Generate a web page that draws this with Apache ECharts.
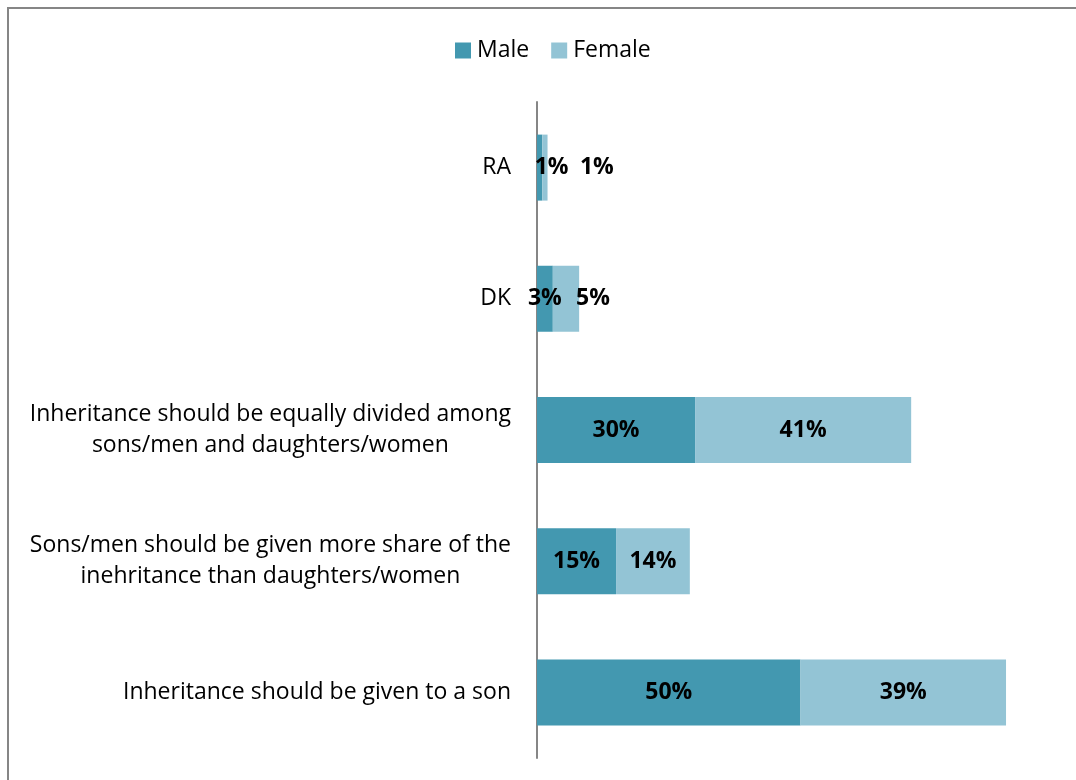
<!DOCTYPE html>
<html>
<head>
<meta charset="utf-8">
<script src="https://cdn.jsdelivr.net/npm/echarts@6/dist/echarts.min.js"></script>
<style>
  html, body { margin: 0; padding: 0; background: #fff; }
  #chart { width: 1076px; height: 780px; }
</style>
</head>
<body>
<div id="chart"></div>
<script>
// Opinions on inheritance, by sex (% of respondents)
const categories = [
  'RA',
  'DK',
  'Inheritance should be equally divided among\nsons/men and daughters/women',
  'Sons/men should be given more share of the\ninehritance than daughters/women',
  'Inheritance should be given to a son'
];
const maleValues = [1, 3, 30, 15, 50];
const femaleValues = [1, 5, 41, 14, 39];

// Horizontal nudges for the value labels on the narrow bars
const maleLabelShift = [12, 0, 0, 0, 0];
const femaleLabelShift = [52, 27, 0, 0, 0];

const FONT = '"Open Sans", sans-serif';
const FS = 23;

function buildData(values, shifts) {
  return values.map((v, i) => ({
    value: v,
    label: { offset: [shifts[i], 0] }
  }));
}

const chart = echarts.init(document.getElementById('chart'), null, { renderer: 'canvas' });

chart.setOption({
  animation: false,
  backgroundColor: '#ffffff',
  textStyle: { fontFamily: FONT },
  graphic: [{
    type: 'rect',
    shape: { x: 8, y: 8, width: 1090, height: 800 },
    style: { fill: 'none', stroke: '#868686', lineWidth: 2 },
    silent: true
  }],
  legend: {
    top: 34,
    left: 450,
    itemWidth: 16,
    itemHeight: 16,
    itemGap: 22,
    icon: 'rect',
    textStyle: { fontFamily: FONT, fontSize: FS, color: '#000', padding: [0, 0, 0, 1] },
    data: ['Male', 'Female']
  },
  grid: { left: 537, top: 102, width: 527, height: 656, containLabel: false },
  xAxis: {
    type: 'value',
    min: 0,
    max: 100,
    show: false
  },
  yAxis: {
    type: 'category',
    inverse: true,
    data: categories,
    axisLine: { show: true, lineStyle: { color: '#868686', width: 2 } },
    axisTick: { show: false },
    axisLabel: {
      margin: 26,
      align: 'right',
      color: '#000',
      fontFamily: FONT,
      fontSize: FS,
      lineHeight: 31,
      formatter: function (v) {
        return v.split('\n').map(s => '{c|' + s + '}').join('\n');
      },
      rich: {
        c: { align: 'center', fontFamily: FONT, fontSize: FS, lineHeight: 31, color: '#000' }
      }
    }
  },
  series: [
    {
      name: 'Male',
      type: 'bar',
      stack: 'total',
      barWidth: 66,
      itemStyle: { color: '#4398B0' },
      label: {
        show: true,
        position: 'inside',
        formatter: '{c}%',
        color: '#000',
        fontFamily: FONT,
        fontWeight: 'bold',
        fontSize: FS
      },
      data: buildData(maleValues, maleLabelShift)
    },
    {
      name: 'Female',
      type: 'bar',
      stack: 'total',
      barWidth: 66,
      itemStyle: { color: '#93C4D5' },
      label: {
        show: true,
        position: 'inside',
        formatter: '{c}%',
        color: '#000',
        fontFamily: FONT,
        fontWeight: 'bold',
        fontSize: FS
      },
      data: buildData(femaleValues, femaleLabelShift)
    }
  ]
});
</script>
</body>
</html>
